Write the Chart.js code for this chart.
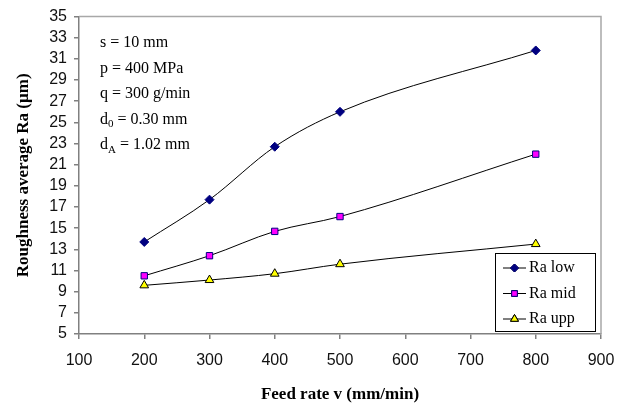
<!DOCTYPE html>
<html>
<head>
<meta charset="utf-8">
<script src="https://cdn.jsdelivr.net/npm/chart.js@4.4.0/dist/chart.umd.min.js"></script>
<style>
  html, body { margin: 0; padding: 0; background: #fff; }
  canvas { display: block; }
</style>
</head>
<body>
<canvas id="chart" width="628" height="407"></canvas>
<script>
const feedRates = [200, 300, 400, 500, 800];
const raLow = [13.7, 17.7, 22.7, 26.0, 31.8];
const raMid = [10.5, 12.4, 14.7, 16.1, 22.0];
const raUpp = [9.6, 10.1, 10.7, 11.6, 13.5];
const seriesNames = ["Ra low", "Ra mid", "Ra upp"];
const notes = [
  ["s = 10 mm"],
  ["p = 400 MPa"],
  ["q = 300 g/min"],
  ["d", "0", " = 0.30 mm"],
  ["d", "A", " = 1.02 mm"]
];

function points(values) {
  return feedRates.map((x, i) => ({ x: x, y: values[i] }));
}

// gray frame round the plot area
const frame = {
  id: "frame",
  beforeDatasetsDraw(chart) {
    const { ctx, chartArea: a } = chart;
    ctx.save();
    ctx.strokeStyle = "#a8a8a8";
    ctx.lineWidth = 1.5;
    ctx.beginPath();
    ctx.moveTo(a.left, a.top);
    ctx.lineTo(a.right, a.top);
    ctx.lineTo(a.right, a.bottom);
    ctx.stroke();
    ctx.restore();
  }
};

// parameter text and boxed legend
const extras = {
  id: "extras",
  afterDraw(chart) {
    const { ctx } = chart;
    ctx.save();
    ctx.fillStyle = "#000";
    ctx.textBaseline = "middle";
    ctx.textAlign = "left";
    notes.forEach((parts, i) => {
      let x = 100;
      const y = 43 + i * 25.5;
      ctx.font = "16px 'Liberation Serif'";
      ctx.fillText(parts[0], x, y);
      x += ctx.measureText(parts[0]).width;
      if (parts.length > 1) {
        ctx.font = "11px 'Liberation Serif'";
        ctx.fillText(parts[1], x, y + 5);
        x += ctx.measureText(parts[1]).width;
        ctx.font = "16px 'Liberation Serif'";
        ctx.fillText(parts[2], x, y);
      }
    });

    // legend
    const bx = 495, by = 253, bw = 100, bh = 78;
    ctx.fillStyle = "#fff";
    ctx.fillRect(bx, by, bw, bh);
    ctx.strokeStyle = "#000";
    ctx.lineWidth = 1;
    ctx.strokeRect(bx + 0.5, by + 0.5, bw, bh);
    chart.data.datasets.forEach((ds, i) => {
      const y = by + 15 + i * 25.5;
      ctx.strokeStyle = "#000";
      ctx.beginPath();
      ctx.moveTo(bx + 8, y);
      ctx.lineTo(bx + 31, y);
      ctx.stroke();
      Chart.helpers.drawPoint(ctx, {
        pointStyle: ds.pointStyle,
        radius: ds.pointRadius - 0.5,
        rotation: 0,
        borderWidth: ds.pointBorderWidth
      }, bx + 19.5, y);
      ctx.fillStyle = ds.pointBackgroundColor;
      ctx.strokeStyle = ds.pointBorderColor;
      ctx.lineWidth = ds.pointBorderWidth;
      ctx.fill();
      ctx.stroke();
      ctx.fillStyle = "#000";
      ctx.font = "16px 'Liberation Serif'";
      ctx.fillText(ds.label, bx + 34, y);
    });
    ctx.restore();
  }
};

const ctx = document.getElementById("chart").getContext("2d");

new Chart(ctx, {
  type: "line",
  data: {
    datasets: [
      {
        label: seriesNames[0],
        data: points(raLow),
        borderColor: "#000",
        borderWidth: 1,
        cubicInterpolationMode: "monotone",
        pointStyle: "rectRot",
        pointRadius: 4.5,
        pointBackgroundColor: "#000080",
        pointBorderColor: "#000080",
        pointBorderWidth: 1
      },
      {
        label: seriesNames[1],
        data: points(raMid),
        borderColor: "#000",
        borderWidth: 1,
        cubicInterpolationMode: "monotone",
        pointStyle: "rect",
        pointRadius: 4.5,
        pointBackgroundColor: "#ff00ff",
        pointBorderColor: "#000080",
        pointBorderWidth: 1
      },
      {
        label: seriesNames[2],
        data: points(raUpp),
        borderColor: "#000",
        borderWidth: 1,
        cubicInterpolationMode: "monotone",
        pointStyle: "triangle",
        pointRadius: 5,
        pointBackgroundColor: "#ffff00",
        pointBorderColor: "#000",
        pointBorderWidth: 1
      }
    ]
  },
  options: {
    responsive: false,
    animation: false,
    layout: { padding: { top: 16, right: 27, left: 0, bottom: 0 } },
    plugins: {
      legend: { display: false },
      tooltip: { enabled: false }
    },
    scales: {
      x: {
        type: "linear",
        min: 100,
        max: 900,
        afterFit(scale) { scale.height = 73; },
        border: { color: "#808080", width: 1.5 },
        grid: { drawOnChartArea: false, tickLength: 5, color: "#808080", lineWidth: 1.5 },
        ticks: {
          stepSize: 100,
          autoSkip: false,
          color: "#111",
          padding: 12,
          maxRotation: 0,
          font: { family: "'Liberation Sans'", size: 16 }
        },
        title: {
          display: true,
          text: "Feed rate v (mm/min)",
          color: "#000",
          padding: { top: 0, bottom: 2 },
          font: { family: "'Liberation Serif'", size: 17, weight: "bold" }
        }
      },
      y: {
        min: 5,
        max: 35,
        afterFit(scale) { scale.width = 79; },
        border: { color: "#808080", width: 1.5 },
        grid: { drawOnChartArea: false, tickLength: 5, color: "#808080", lineWidth: 1.5 },
        ticks: {
          stepSize: 2,
          autoSkip: false,
          color: "#111",
          padding: 7,
          font: { family: "'Liberation Sans'", size: 16 }
        },
        title: {
          display: true,
          text: "Roughness average Ra (µm)",
          color: "#000",
          padding: { top: 13, bottom: 0 },
          font: { family: "'Liberation Serif'", size: 17, weight: "bold" }
        }
      }
    }
  },
  plugins: [frame, extras]
});
</script>
</body>
</html>
